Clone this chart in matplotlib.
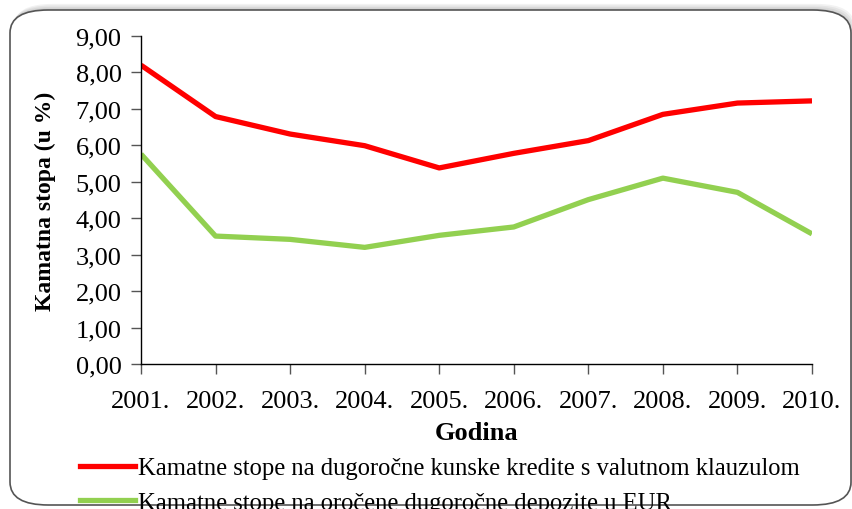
import matplotlib
matplotlib.use("Agg")
import matplotlib.pyplot as plt
from matplotlib.patches import FancyBboxPatch
from matplotlib.lines import Line2D

years = ["2001.", "2002.", "2003.", "2004.", "2005.", "2006.", "2007.", "2008.", "2009.", "2010."]
kredit = [8.20, 6.79, 6.31, 5.99, 5.38, 5.78, 6.13, 6.85, 7.16, 7.22]
depozit = [5.76, 3.51, 3.42, 3.20, 3.53, 3.76, 4.51, 5.10, 4.71, 3.57]
label_kredit = "Kamatne stope na dugoročne kunske kredite s valutnom klauzulom"
label_depozit = "Kamatne stope na oročene dugoročne depozite u EUR"
yticks = [0, 1, 2, 3, 4, 5, 6, 7, 8, 9]

plt.rcParams['font.family'] = ['Liberation Serif', 'DejaVu Serif']

W, H = 853, 510
fig = plt.figure(figsize=(W / 100, H / 100), dpi=100)

fx0, fy0, fx1, fy1 = 10, 11, 851, 506
# shadow + rounded frame
for i, a in enumerate([0.05, 0.05, 0.05, 0.05]):
    sh = FancyBboxPatch((fx0 / W + 0.0015 * i, 1 - fy1 / H + 0.003 * (i + 1)), (fx1 - fx0) / W, (fy1 - fy0) / H,
                        boxstyle="round,pad=0,rounding_size=0.045", transform=fig.transFigure,
                        facecolor="black", edgecolor="none", alpha=a, zorder=-3)
    fig.patches.append(sh)
frame = FancyBboxPatch((fx0 / W, 1 - fy1 / H), (fx1 - fx0) / W, (fy1 - fy0) / H,
                       boxstyle="round,pad=0,rounding_size=0.045", transform=fig.transFigure,
                       facecolor="white", edgecolor="#555555", linewidth=1.2, zorder=-2)
fig.patches.append(frame)

ax = fig.add_axes([141 / W, 1 - 365 / H, (812 - 141) / W, (365 - 37) / H])
ax.set_zorder(2)
ax.set_facecolor("none")
x = list(range(len(years)))
ax.plot(x, kredit, color="#ff0000", linewidth=3.8, solid_capstyle="butt", solid_joinstyle="round")
ax.plot(x, depozit, color="#92d050", linewidth=3.8, solid_capstyle="butt", solid_joinstyle="round")

ax.set_xlim(0, len(years) - 1)
ax.set_ylim(0, 9)
ax.set_yticks(yticks)
ax.set_yticklabels([f"{v:.2f}".replace(".", ",") for v in yticks])
ax.set_xticks(x)
ax.set_xticklabels(years)
for s in ["top", "right"]:
    ax.spines[s].set_visible(False)
for s in ["left", "bottom"]:
    ax.spines[s].set_color("black")
    ax.spines[s].set_linewidth(1.0)
ax.tick_params(axis="both", labelsize=19, colors="#555555", labelcolor="black", length=7, width=1.0, direction="out")
ax.tick_params(axis="y", pad=7)
ax.tick_params(axis="x", pad=12)

ax.set_xlabel("Godina", fontsize=19, fontweight="bold", labelpad=6)
ax.set_ylabel("Kamatna stopa (u %)", fontsize=17, fontweight="bold", labelpad=14)

handles = [Line2D([], [], color="#ff0000", linewidth=3.8),
           Line2D([], [], color="#92d050", linewidth=3.8)]
leg = fig.legend(handles, [label_kredit, label_depozit], loc="upper left",
                 bbox_to_anchor=(80 / W, 1 - 458 / H), frameon=False, fontsize=17.7,
                 handlelength=2.25, handletextpad=0.1, labelspacing=0.5, borderaxespad=0, borderpad=0)
leg.set_zorder(3)

fig.savefig("out.png", dpi=100)
